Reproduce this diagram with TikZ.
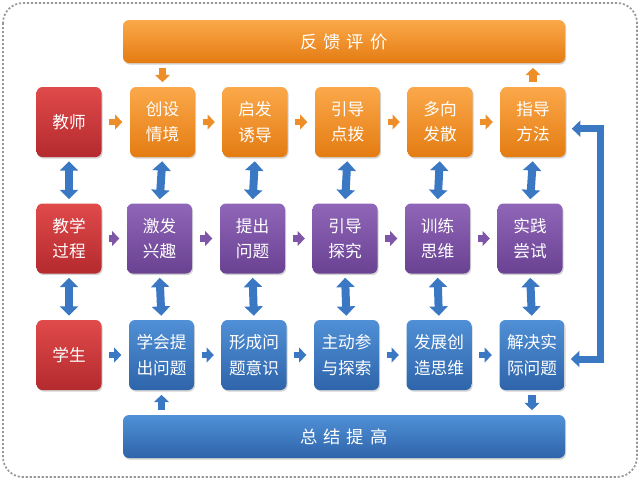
\documentclass[tikz,border=0pt]{standalone}
\usepackage{fontspec}
\newfontfamily\cjk{Noto Sans CJK SC}
\usetikzlibrary{arrows.meta,shadows,shadings}
\definecolor{orT}{HTML}{FBA84A}\definecolor{orB}{HTML}{E47C12}
\definecolor{rdT}{HTML}{E04A4A}\definecolor{rdB}{HTML}{B42A2E}
\definecolor{puT}{HTML}{9066B8}\definecolor{puB}{HTML}{6A4292}
\definecolor{blT}{HTML}{5090D6}\definecolor{blB}{HTML}{2E64AA}
\definecolor{arO}{HTML}{EE8E2A}\definecolor{arP}{HTML}{7E56A8}\definecolor{arB}{HTML}{3A78C4}
\tikzset{
  box/.style={rounded corners=4.5pt, minimum width=48.75pt, minimum height=52.5pt, inner sep=0pt,
    text=white, font=\cjk\fontsize{12.5}{19}\selectfont, align=center,
    drop shadow={shadow xshift=0.8pt, shadow yshift=-1.2pt, opacity=0.35}},
  obox/.style={box, top color=orT, bottom color=orB},
  rbox/.style={box, top color=rdT, bottom color=rdB},
  pbox/.style={box, top color=puT, bottom color=puB},
  bbox/.style={box, top color=blT, bottom color=blB},
  bar/.style={rounded corners=4.5pt, minimum width=331.5pt, minimum height=32.25pt, inner sep=0pt,
    text=white, font=\cjk\fontsize{13}{16}\selectfont,
    drop shadow={shadow xshift=0.8pt, shadow yshift=-1.2pt, opacity=0.35}},
  harrow/.style={line width=5pt, -{Triangle[width=11pt,length=5.5pt]}, shorten <=5.5pt, shorten >=5.5pt},
  varrow/.style={draw=arB, line width=6pt, {Triangle[width=13.5pt,length=7pt]}-{Triangle[width=13.5pt,length=7pt]}, shorten <=3pt, shorten >=3pt},
  sarrow/.style={line width=5.5pt, -{Triangle[width=11pt,length=5.5pt]}, shorten <=3.4pt, shorten >=3.4pt},
}
\begin{document}
\begin{tikzpicture}[x=0.75pt,y=-0.75pt]
\useasboundingbox (0,0) rectangle (640,480);
\draw[gray!80, line width=1.3pt, dash pattern=on 1.6pt off 1.4pt, rounded corners=15pt] (3,3) rectangle (637,477);
% bars
\node[bar, top color=orT, bottom color=orB] (fk) at (344,41.5) {反\hspace{4.5pt}馈\hspace{4.5pt}评\hspace{4.5pt}价};
\node[bar, top color=blT, bottom color=blB] (zj) at (344,436.5) {总\hspace{4.5pt}结\hspace{4.5pt}提\hspace{4.5pt}高};
% row 1
\node[rbox] (a0) at (69,122) {教师};
\node[obox] (a1) at (162.5,122) {创设\\情境};
\node[obox] (a2) at (255,122) {启发\\诱导};
\node[obox] (a3) at (347.5,122) {引导\\点拨};
\node[obox] (a4) at (440,122) {多向\\发散};
\node[obox] (a5) at (533,122) {指导\\方法};
% row 2
\node[rbox] (b0) at (69,238.5) {教学\\过程};
\node[pbox] (b1) at (159.5,238.5) {激发\\兴趣};
\node[pbox] (b2) at (252.5,238.5) {提出\\问题};
\node[pbox] (b3) at (345,238.5) {引导\\探究};
\node[pbox] (b4) at (437.5,238.5) {训练\\思维};
\node[pbox] (b5) at (530,238.5) {实践\\尝试};
% row 3
\node[rbox] (c0) at (69,355) {学生};
\node[bbox] (c1) at (161.5,355) {学会提\\出问题};
\node[bbox] (c2) at (254,355) {形成问\\题意识};
\node[bbox] (c3) at (346.5,355) {主动参\\与探索};
\node[bbox] (c4) at (439,355) {发展创\\造思维};
\node[bbox] (c5) at (532,355) {解决实\\际问题};
% horizontal arrows
\foreach \i/\j in {0/1,1/2,2/3,3/4,4/5}{
  \draw[harrow, draw=arO] (a\i) -- (a\j);
  \draw[harrow, draw=arP] (b\i) -- (b\j);
  \draw[harrow, draw=arB] (c\i) -- (c\j);
}
% vertical double arrows
\foreach \i in {0,...,5}{
  \draw[varrow] (a\i.south) -- (b\i.north);
  \draw[varrow] (b\i.south) -- (c\i.north);
}
% bar connections
\draw[sarrow, draw=arO] (fk.south -| a1) -- (a1.north);
\draw[sarrow, draw=arO] (a5.north) -- (fk.south -| a5);
\draw[sarrow, draw=arB] (zj.north -| c1) -- (c1.south);
\draw[sarrow, draw=arB] (c5.south) -- (zj.north -| c5);
% right feedback connector
\coordinate (r1) at ([yshift=-5]a5.east);
\coordinate (r2) at ([yshift=-3]c5.east);
\draw[draw=arB, line width=5.25pt, line join=miter,
  {Triangle[width=12pt,length=6.5pt]}-{Triangle[width=12pt,length=6.5pt]}, shorten <=4.5pt, shorten >=4.5pt]
  (r1) -- ++(35,0) |- (r2);
\end{tikzpicture}
\end{document}
